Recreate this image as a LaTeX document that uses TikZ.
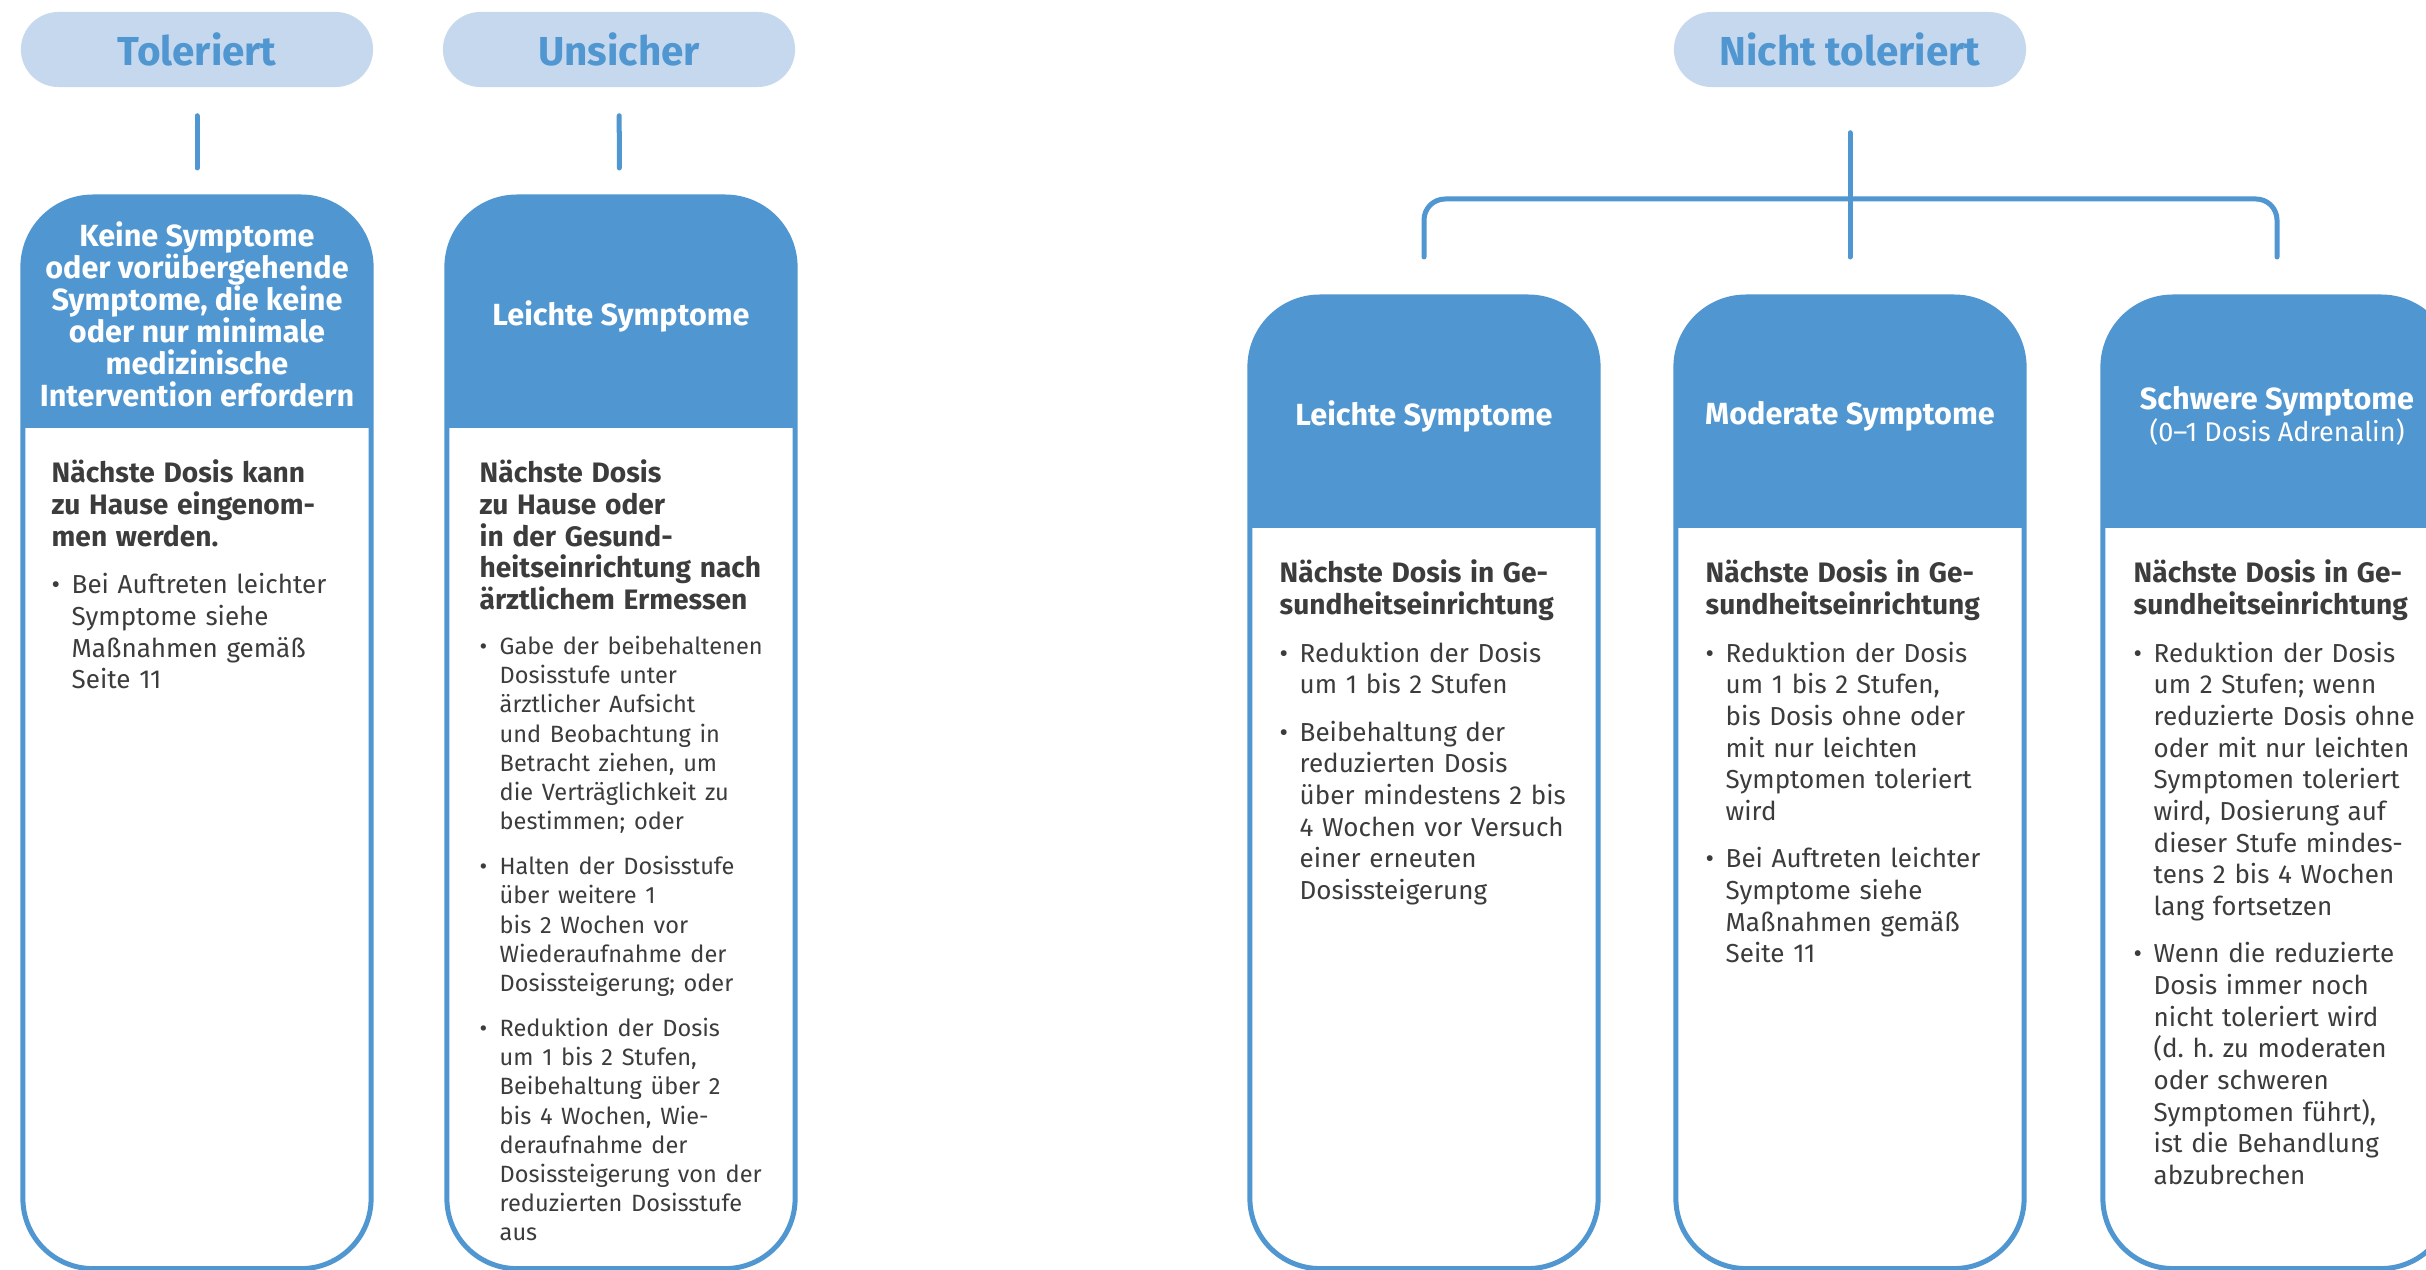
\documentclass[tikz,border=0pt]{standalone}
\usepackage{fontspec}
\setmainfont{Fira Sans}
\usetikzlibrary{positioning}

\definecolor{boxblue}{RGB}{80,150,208}
\definecolor{pillblue}{RGB}{198,216,238}
\definecolor{textgray}{RGB}{60,60,60}

% bullet with hanging indent, bold lead-in
\newcommand{\bul}{\par\vspace{4.5pt}\hangindent=0.2cm\hangafter=1\noindent\makebox[0.2cm][l]{\textbullet}}
\newcommand{\lead}[1]{{\fontsize{8}{9}\selectfont\bfseries #1}}

\begin{document}
\begin{tikzpicture}[x=0.01cm, y=-0.01cm,
    pill/.style={fill=pillblue, rounded corners=0.375cm, minimum width=3.52cm, minimum height=0.75cm,
      text=boxblue, font=\bfseries\fontsize{11.5}{13}\selectfont},
    card/.style={draw=boxblue, line width=0.05cm, fill=white, rounded corners=0.7cm,
      minimum width=3.48cm, outer sep=0pt, anchor=north,
      path picture={\fill[boxblue, sharp corners] (path picture bounding box.north west)
        rectangle ([yshift=-2.31cm]path picture bounding box.north east);}},
    head/.style={text=white, align=center, font=\bfseries\fontsize{8.7}{9.1}\selectfont},
    body/.style={anchor=base west, text width=4cm, inner sep=0pt, text=textgray,
      font=\fontsize{7.4}{9}\selectfont},
    conn/.style={draw=boxblue, line width=0.05cm, line cap=round}]

    \useasboundingbox (0,0) rectangle (2426,1270);
    \clip (0,0) rectangle (2426,1270);

    % Pills
    \node[pill] (tol) at (197,49.5) {Toleriert};
    \node[pill] (uns) at (619,49.5) {Unsicher};
    \node[pill] (nt) at (1850,49.5) {Nicht toleriert};

    % Cards
    \node[card, minimum height=10.71cm] (card1) at (197,197) {};
    \node[card, minimum height=10.71cm] (card2) at (621,197) {};
    \node[card, minimum height=9.71cm] (card3) at (1424,297) {};
    \node[card, minimum height=9.71cm] (card4) at (1850,297) {};
    \node[card, minimum height=9.71cm] (card5) at (2277,297) {};

    % Connectors
    \draw[conn, shorten <=0.28cm, shorten >=0.29cm] (tol) -- (card1);
    \draw[conn, shorten <=0.28cm, shorten >=0.29cm] (uns) -- (card2);
    \draw[conn, shorten <=0.45cm, shorten >=0.40cm] (nt) -- (card4);
    \coordinate (bar) at (1850,199);
    \draw[conn, rounded corners=0.21cm] ([yshift=0.4cm]card3.north) |- (bar) -| ([yshift=0.4cm]card5.north);

    % Card headers
    \node[head] (h1) at (197,314) {Keine Symptome\\oder vorübergehende\\Symptome, die keine\\oder nur minimale\\medizinische\\Intervention erfordern};
    \node[head] (h2) at (621,316) {Leichte Symptome};
    \node[head] (h3) at (1424,416) {Leichte Symptome};
    \node[head] (h4) at (1850,416) {Moderate Symptome};
    \node[head] (h5) at (2277,416) {Schwere Symptome\\\fontsize{7.7}{9.1}\selectfont\mdseries(0–1 Dosis Adrenalin)};

    % Card bodies
    \node[body] (b1) at (51,483) {\lead{Nächste Dosis kann\newline zu Hause eingenom-\newline men werden.}
      \bul Bei Auftreten leichter\newline Symptome siehe\newline Maßnahmen gemäß\newline Seite 11\par};
    \node[body] (b2) at (479,483) {\lead{Nächste Dosis\newline zu Hause oder\newline in der Gesund-\newline heitseinrichtung nach\newline ärztlichem Ermessen}\par
      \fontsize{6.7}{8.3}\selectfont
      \bul Gabe der beibehaltenen\newline Dosisstufe unter\newline ärztlicher Aufsicht\newline und Beobachtung in\newline Betracht ziehen, um\newline die Verträglichkeit zu\newline bestimmen; oder
      \bul Halten der Dosisstufe\newline über weitere 1\newline bis 2 Wochen vor\newline Wiederaufnahme der\newline Dosissteigerung; oder
      \bul Reduktion der Dosis\newline um 1 bis 2 Stufen,\newline Beibehaltung über 2\newline bis 4 Wochen, Wie-\newline deraufnahme der\newline Dosissteigerung von der\newline reduzierten Dosisstufe\newline aus\par};
    \node[body] (b3) at (1279,583) {\lead{Nächste Dosis in Ge-\newline sundheitseinrichtung}
      \bul Reduktion der Dosis\newline um 1 bis 2 Stufen
      \bul Beibehaltung der\newline reduzierten Dosis\newline über mindestens 2 bis\newline 4 Wochen vor Versuch\newline einer erneuten\newline Dosissteigerung\par};
    \node[body] (b4) at (1705,583) {\lead{Nächste Dosis in Ge-\newline sundheitseinrichtung}
      \bul Reduktion der Dosis\newline um 1 bis 2 Stufen,\newline bis Dosis ohne oder\newline mit nur leichten\newline Symptomen toleriert\newline wird
      \bul Bei Auftreten leichter\newline Symptome siehe\newline Maßnahmen gemäß\newline Seite 11\par};
    \node[body] (b5) at (2133,583) {\lead{Nächste Dosis in Ge-\newline sundheitseinrichtung}
      \bul Reduktion der Dosis\newline um 2 Stufen; wenn\newline reduzierte Dosis ohne\newline oder mit nur leichten\newline Symptomen toleriert\newline wird, Dosierung auf\newline dieser Stufe mindes-\newline tens 2 bis 4 Wochen\newline lang fortsetzen
      \bul Wenn die reduzierte\newline Dosis immer noch\newline nicht toleriert wird\newline (d.\ h.\ zu moderaten\newline oder schweren\newline Symptomen führt),\newline ist die Behandlung\newline abzubrechen\par};
\end{tikzpicture}
\end{document}
